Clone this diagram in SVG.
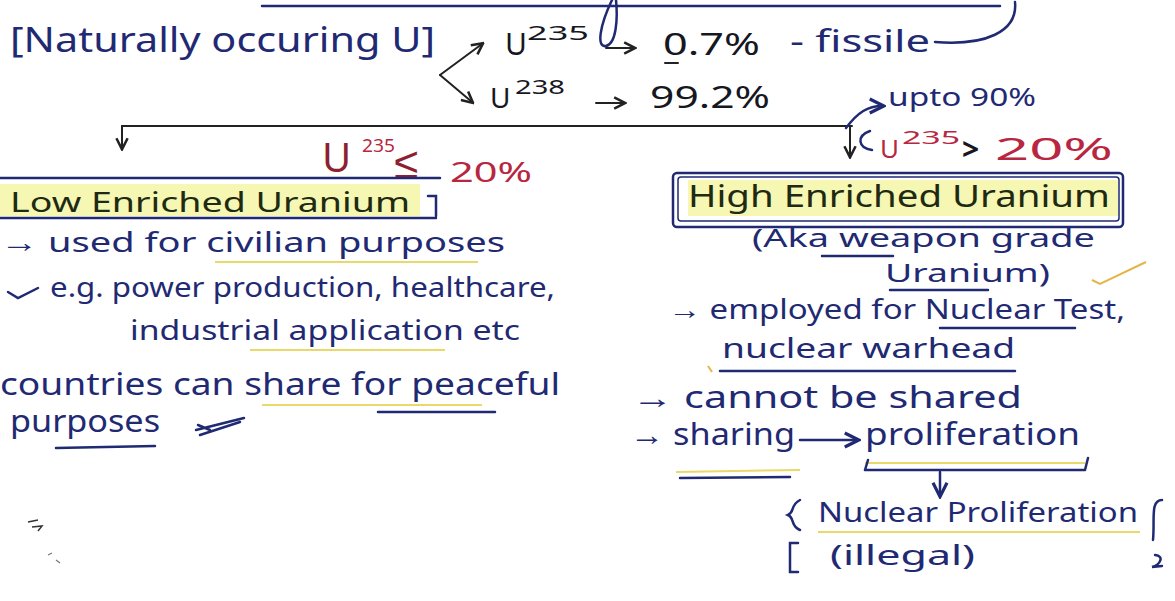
<svg xmlns="http://www.w3.org/2000/svg" width="1175" height="601" viewBox="0 0 1175 601">
<defs>
<style>
text{font-family:"Noto Sans","Liberation Sans",sans-serif;}
.n{fill:#1f2a73;}
.k{fill:#17171f;}
.r{fill:#b8273f;}
.g{fill:#1e2a12;}
.ln{stroke:#1f2a73;stroke-width:2.5;fill:none;stroke-linecap:round;}
.lk{stroke:#222;stroke-width:2;fill:none;stroke-linecap:round;}
.yl{stroke:#e9d86a;stroke-width:2;fill:none;}
.hl{fill:#f2f49a;opacity:0.75;}
</style>
<marker id="ah" viewBox="0 0 10 10" refX="8" refY="5" markerWidth="7" markerHeight="7" orient="auto-start-reverse">
<path d="M1 1 L9 5 L1 9" fill="none" stroke="#222" stroke-width="1.8"/>
</marker>
<marker id="ahn" viewBox="0 0 10 10" refX="8" refY="5" markerWidth="7" markerHeight="7" orient="auto-start-reverse">
<path d="M1 1 L9 5 L1 9" fill="none" stroke="#1f2a73" stroke-width="1.8"/>
</marker>
</defs>
<rect width="1175" height="601" fill="#ffffff"/>

<!-- top cut-off strokes -->
<g id="top-fragment">
<path class="ln" d="M262 6 L1000 6" stroke-width="2"/>
<path class="ln" d="M612 0 C600 25 596 48 606 46 C616 44 618 20 616 0" stroke-width="2"/>
<path class="ln" d="M935 42 C985 46 1018 32 1015 2" stroke-width="2"/>
</g>

<g id="naturally-occurring">
<text class="n" x="10" y="52" font-size="34" textLength="425" lengthAdjust="spacingAndGlyphs">[Naturally occuring U]</text>
</g>

<g id="u235">
<text class="k" x="505" y="55" font-size="30">U</text>
<text class="k" x="527" y="40" font-size="20" textLength="62" lengthAdjust="spacingAndGlyphs">235</text>
<text class="k" x="663" y="55" font-size="30" textLength="97" lengthAdjust="spacingAndGlyphs">0.7%</text>
<path class="lk" d="M665 63 L678 63"/>
<text class="n" x="790" y="52" font-size="30" textLength="140" lengthAdjust="spacingAndGlyphs">- fissile</text>
</g>

<g id="u238">
<text class="k" x="490" y="108" font-size="28">U</text>
<text class="k" x="515" y="94" font-size="20" textLength="50" lengthAdjust="spacingAndGlyphs">238</text>
<text class="k" x="650" y="108" font-size="30" textLength="120" lengthAdjust="spacingAndGlyphs">99.2%</text>
</g>

<g id="upto90">
<text class="n" x="888" y="106" font-size="26" textLength="148" lengthAdjust="spacingAndGlyphs">upto 90%</text>
</g>

<g id="heu-condition">
<path class="ln" d="M870 131 C856 136 858 148 872 150" stroke-width="2"/>
<text class="r" x="880" y="158" font-size="26">U</text>
<text class="r" x="902" y="144" font-size="18" textLength="58" lengthAdjust="spacingAndGlyphs">235</text>
<text class="k" x="962" y="160" font-size="30" font-weight="bold">&gt;</text>
<text class="r" x="995" y="160" font-size="30" textLength="118" lengthAdjust="spacingAndGlyphs">20%</text>
</g>

<g id="leu-condition">
<text x="322" y="172" font-size="40" fill="#8e1f30">U</text>
<text class="r" x="362" y="152" font-size="18" textLength="33" lengthAdjust="spacingAndGlyphs">235</text>
<text x="394" y="178" font-size="44" fill="#8e1f30">≤</text>
<text class="r" x="450" y="182" font-size="28" textLength="82" lengthAdjust="spacingAndGlyphs">20%</text>
</g>

<g id="connectors">
<path class="lk" d="M122 126 L852 126"/>
<path class="lk" d="M122 126 L122 148" marker-end="url(#ah)"/>
<path class="lk" d="M850 126 L850 156" marker-end="url(#ah)"/>
<path class="ln" d="M846 128 C858 112 868 106 882 106" marker-end="url(#ahn)" stroke-width="2"/>
<path class="lk" d="M440 75 L482 44" marker-end="url(#ah)" stroke-width="3"/>
<path class="lk" d="M440 75 L472 102" marker-end="url(#ah)" stroke-width="3"/>
<path class="lk" d="M606 48 L634 48" marker-end="url(#ah)"/>
<path class="lk" d="M596 103 L624 103" marker-end="url(#ah)"/>
<path class="ln" d="M800 440 L857 440" marker-end="url(#ahn)" stroke-width="2"/>
<path class="ln" d="M940 472 L940 495" marker-end="url(#ahn)" stroke-width="2"/>
</g>

<g id="low-enriched">
<rect class="hl" x="0" y="184" width="420" height="32"/>
<path class="ln" d="M0 178 L440 178"/>
<path class="ln" d="M0 218 L436 218"/>
<path class="ln" d="M428 196 L436 196 L436 216" stroke-width="2"/>
<text class="g" x="10" y="212" font-size="28" textLength="400" lengthAdjust="spacingAndGlyphs">Low Enriched Uranium</text>
</g>

<g id="high-enriched">
<rect class="hl" x="688" y="180" width="430" height="36"/>
<rect x="673" y="173" width="450" height="54" rx="4" fill="none" stroke="#1f2a73" stroke-width="2.5"/>
<rect x="678" y="177" width="441" height="44" rx="3" fill="none" stroke="#1f2a73" stroke-width="1.5"/>
<text class="g" x="688" y="207" font-size="30" textLength="422" lengthAdjust="spacingAndGlyphs">High Enriched Uranium</text>
</g>

<g id="leu-notes">
<text class="n" x="0" y="252" font-size="28" textLength="505" lengthAdjust="spacingAndGlyphs">→ used for civilian purposes</text>
<path class="yl" d="M215 262 L478 262"/>
<path class="ln" d="M8 292 L18 298 L38 288" stroke-width="3"/>
<text class="n" x="50" y="297" font-size="28" textLength="505" lengthAdjust="spacingAndGlyphs">e.g. power production, healthcare,</text>
<text class="n" x="130" y="340" font-size="28" textLength="390" lengthAdjust="spacingAndGlyphs">industrial application etc</text>
<path class="yl" d="M250 350 L445 350"/>
<text class="n" x="0" y="395" font-size="30" textLength="560" lengthAdjust="spacingAndGlyphs">countries can share for peaceful</text>
<path class="yl" d="M262 405 L482 405"/>
<path class="ln" d="M378 412 L495 412" stroke-width="2"/>
<text class="n" x="10" y="432" font-size="30" textLength="150" lengthAdjust="spacingAndGlyphs">purposes</text>
<path class="ln" d="M56 448 L155 446"/>
<path class="ln" d="M196 430 L244 418 M200 435 L240 422 M198 425 L210 430" stroke-width="2.5"/>
</g>

<g id="heu-notes">
<text class="n" x="752" y="247" font-size="26" textLength="343" lengthAdjust="spacingAndGlyphs">(Aka weapon grade</text>
<path class="ln" d="M822 256 L893 256" stroke-width="2"/>
<text class="n" x="885" y="282" font-size="25" textLength="165" lengthAdjust="spacingAndGlyphs">Uranium)</text>
<path class="ln" d="M890 290 L988 290" stroke-width="2"/>
<path d="M1092 280 L1100 284 L1146 262" fill="none" stroke="#e6b548" stroke-width="2"/>
<text class="n" x="668" y="319" font-size="27" textLength="457" lengthAdjust="spacingAndGlyphs">→ employed for Nuclear Test,</text>
<path class="ln" d="M940 328 L1075 328" stroke-width="2"/>
<text class="n" x="722" y="358" font-size="28" textLength="293" lengthAdjust="spacingAndGlyphs">nuclear warhead</text>
<path class="ln" d="M720 371 L1015 371"/>
<path d="M708 366 L712 372" stroke="#e6b548" stroke-width="2"/>
<text class="n" x="632" y="408" font-size="30" textLength="390" lengthAdjust="spacingAndGlyphs">→ cannot be shared</text>
<text class="n" x="630" y="445" font-size="30" textLength="165" lengthAdjust="spacingAndGlyphs">→ sharing</text>
<path class="yl" d="M676 472 L800 470"/>
<path class="ln" d="M680 478 L790 477"/>
<text class="n" x="865" y="445" font-size="30" textLength="215" lengthAdjust="spacingAndGlyphs">proliferation</text>
<path class="yl" d="M865 463 L1085 463"/>
<path class="ln" d="M865 470 L1085 470 M865 470 L868 460 M1085 470 L1088 458" stroke-width="2"/>
<path class="ln" d="M800 500 C790 505 795 512 788 515 C795 518 790 526 800 530" stroke-width="2"/>
<text class="n" x="818" y="522" font-size="28" textLength="320" lengthAdjust="spacingAndGlyphs">Nuclear Proliferation</text>
<path class="yl" d="M818 532 L1140 532"/>
<path class="ln" d="M1162 500 C1150 500 1155 520 1153 540 M1155 555 C1165 556 1160 565 1152 567 L1162 566" stroke-width="2"/>
<path class="ln" d="M798 543 L790 543 L790 572 L798 572" stroke-width="2"/>
<text class="n" x="830" y="565" font-size="28" textLength="145" lengthAdjust="spacingAndGlyphs">(illegal)</text>
</g>

<g id="stray-marks">
<path d="M28 522 L38 520 M32 527 L42 526 L38 531" stroke="#333" stroke-width="1.5" fill="none"/>
<path d="M48 555 L52 553 M56 560 L60 563" stroke="#777" stroke-width="1.2" fill="none"/>
</g>
</svg>
